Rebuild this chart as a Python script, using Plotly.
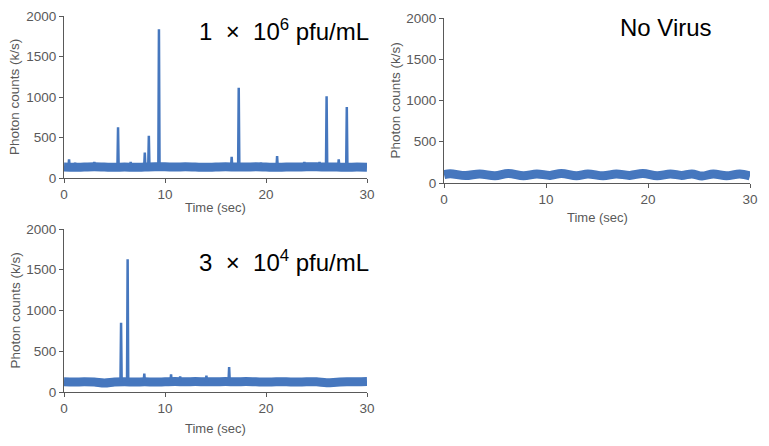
import plotly.graph_objects as go

# page body keeps an 8px margin, so the figure is drawn 8px in from the window corner
OFF = 8
W, H = 769 - OFF, 446 - OFF

# baseline level (k/s) read every 1 s, t = 0..30
base_t = list(range(31))
base_1e6 = [135, 132, 135, 138, 135, 132, 135, 132, 135, 138, 138, 135, 138, 135, 132, 135,
            138, 135, 135, 138, 135, 132, 135, 135, 138, 138, 135, 135, 132, 135, 132]
base_3e4 = [125, 122, 125, 122, 110, 122, 125, 122, 125, 122, 125, 128, 125, 128, 125, 125,
            128, 125, 128, 125, 122, 125, 125, 122, 125, 125, 115, 120, 125, 125, 128]

# no virus: slow wave, peaks and troughs
nv_t = [0, 0.6, 2.1, 3.5, 5.0, 6.3, 7.8, 9.1, 10.4, 11.5, 13.0, 14.1, 15.6, 16.9, 18.2, 19.5,
        20.9, 22.2, 23.3, 24.3, 25.3, 26.4, 27.7, 29.0, 30]
nv_y = [100, 112, 90, 110, 88, 115, 88, 110, 92, 115, 88, 110, 88, 110, 92, 115,
        88, 110, 92, 110, 85, 110, 88, 110, 85]

# bursts (time s, peak k/s)
spk_1e6_t = [0.5, 1.1, 3.0, 5.35, 6.6, 7.0, 8.0, 8.4, 9.4, 16.6, 17.3, 19.5, 21.1, 23.8,
             25.3, 26.0, 27.2, 28.0]
spk_1e6_y = [230, 190, 200, 625, 200, 180, 315, 520, 1835, 260, 1115, 190, 270, 200,
             200, 1010, 230, 875]
spk_3e4_t = [5.65, 6.3, 7.95, 10.6, 11.5, 14.1, 16.35]
spk_3e4_y = [850, 1630, 225, 215, 190, 200, 305]

blue = "#4677BE"
grey = "#595959"
font = "Liberation Sans, Arial, sans-serif"


def px(x):
    return (x - OFF) / W


def py(y):
    return 1 - (y - OFF) / H


# panel boxes in window pixels (left, right, top, bottom, x-title offset)
boxes = {
    "": (64, 367, 16, 178, 29),
    "2": (444, 750, 18, 183, 34),
    "3": (64, 367, 229, 392, 36),
}

fig = go.Figure()


def spikes(ts, ys, base):
    xs, yy = [], []
    for t, p in zip(ts, ys):
        b = base[min(30, int(round(t)))]
        xs += [t - 0.06, t, t + 0.06, None]
        yy += [b, p, b, None]
    return xs, yy


panels = [
    ("", base_t, base_1e6, spk_1e6_t, spk_1e6_y, 9),
    ("2", nv_t, nv_y, [], [], 9),
    ("3", base_t, base_3e4, spk_3e4_t, spk_3e4_y, 9),
]

for ax, bt, bv, st, sv, lw in panels:
    xa, ya = "x" + ax, "y" + ax
    fig.add_trace(go.Scatter(x=bt, y=bv, mode="lines", xaxis=xa, yaxis=ya,
                             line=dict(color=blue, width=lw, shape="spline"), hoverinfo="skip"))
    if st:
        sx, sy = spikes(st, sv, bv)
        fig.add_trace(go.Scatter(x=sx, y=sy, mode="lines", xaxis=xa, yaxis=ya,
                                 line=dict(color=blue, width=2.5)))

axstyle = dict(showline=True, linecolor=grey, linewidth=1, ticks="outside", ticklen=4,
               tickcolor=grey, showgrid=False, zeroline=False, automargin=False,
               tickfont=dict(family=font, size=13.5, color=grey))

layout = dict(width=W, height=H, margin=dict(l=0, r=0, t=0, b=0),
              plot_bgcolor="white", paper_bgcolor="white", showlegend=False)

annotations = []
for ax, (l, r, t, b, toff) in boxes.items():
    layout["xaxis" + ax] = dict(axstyle, domain=[px(l), px(r)], range=[0, 30],
                                tickvals=[0, 10, 20, 30], anchor="y" + ax)
    layout["yaxis" + ax] = dict(axstyle, domain=[py(b), py(t)], range=[0, 2000],
                                tickvals=[0, 500, 1000, 1500, 2000], anchor="x" + ax)
    annotations.append(dict(text="Photon counts (k/s)", xref="paper", yref="paper",
                            x=px(l - 49), y=py((t + b) / 2), textangle=-90, showarrow=False,
                            xanchor="center", yanchor="middle",
                            font=dict(family=font, size=13.5, color=grey)))
    annotations.append(dict(text="Time (sec)", xref="paper", yref="paper",
                            x=px((l + r) / 2), y=py(b + toff), showarrow=False,
                            xanchor="center", yanchor="middle",
                            font=dict(family=font, size=13, color=grey)))

labels = [
    ("1 \u00a0\u00d7\u00a0 10<sup>6</sup> pfu/mL", 371, 30),
    ("No Virus", 714, 27),
    ("3 \u00a0\u00d7\u00a0 10<sup>4</sup> pfu/mL", 371, 261),
]
for txt, xr, yc in labels:
    annotations.append(dict(text=txt, xref="paper", yref="paper", x=px(xr), y=py(yc),
                            xanchor="right", yanchor="middle", showarrow=False,
                            font=dict(family=font, size=24, color="black")))

layout["annotations"] = annotations
fig.update_layout(**layout)

fig.write_html("out.html")
